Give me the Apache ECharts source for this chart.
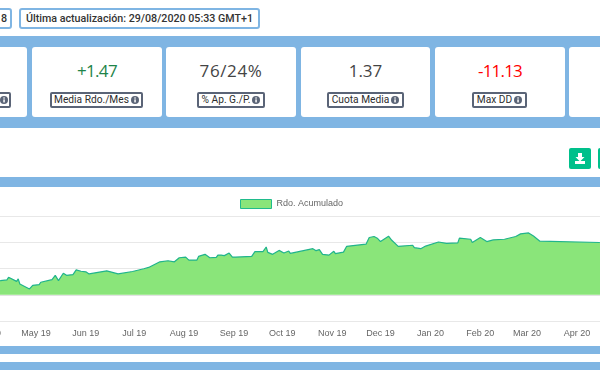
<!DOCTYPE html>
<html><head><meta charset="utf-8">
<script src="https://cdn.jsdelivr.net/npm/echarts@6/dist/echarts.min.js"></script>
<style>
html,body{margin:0;padding:0;background:#fff;width:600px;height:370px;overflow:hidden;font-family:"Open Sans",Roboto,sans-serif}
#chart{position:absolute;left:-80px;top:0;width:760px;height:370px}
.band{position:absolute;left:0;width:600px;background:#7fb5e3}
.card{position:absolute;top:47px;height:70px;width:130px;background:#fff;border-radius:3px;box-sizing:border-box}
.val{position:absolute;left:0;right:0;top:12px;text-align:center;font-size:17px;line-height:24px;color:#444;font-family:"Open Sans",sans-serif;font-weight:400}
.lab{position:absolute;top:45px;height:16px;border:2px solid #5a6477;border-radius:2px;background:#fff;font-size:10.2px;line-height:12px;color:#2d2d2d;text-align:center;box-sizing:border-box;white-space:nowrap;font-family:Roboto,sans-serif}
.lab svg{vertical-align:-1px;margin-left:2px}
.top{position:absolute;top:8px;height:21px;border:2px solid #7fb5e3;border-radius:3px;background:#fff;box-sizing:border-box;font-family:Roboto,sans-serif;font-size:10.7px;line-height:17px;color:#333;font-weight:500;white-space:nowrap;text-align:center}
.btn{position:absolute;top:148px;height:21px;background:#00c08b;border-radius:2px}
</style></head><body>
<div id="chart"></div>
<div class="top" style="left:-40px;width:52px;text-align:right;padding-right:3px">8</div>
<div class="top" style="left:19px;width:241px">Última actualización: 29/08/2020 05:33 GMT+1</div>
<div class="band" style="top:36px;height:92px"></div>
<div class="card" style="left:-103px"><div class="lab" style="width:40px;right:16px;text-align:right;padding-right:1px"><svg width="8" height="8" viewBox="0 0 8 8"><circle cx="4" cy="4" r="4" fill="#5a6477"/><rect x="3.3" y="3.4" width="1.5" height="3" fill="#fff"/><rect x="3.3" y="1.4" width="1.5" height="1.2" fill="#fff"/></svg></div></div>
<div class="card" style="left:32px"><div class="val" style="color:#1e8449;letter-spacing:-.7px">+1.47</div><div class="lab" style="left:18px;width:93px">Media Rdo./Mes<svg width="8" height="8" viewBox="0 0 8 8"><circle cx="4" cy="4" r="4" fill="#5a6477"/><rect x="3.3" y="3.4" width="1.5" height="3" fill="#fff"/><rect x="3.3" y="1.4" width="1.5" height="1.2" fill="#fff"/></svg></div></div>
<div class="card" style="left:166px"><div class="val" style="letter-spacing:.6px">76/24%</div><div class="lab" style="left:31px;width:68px">% Ap. G./P.<svg width="8" height="8" viewBox="0 0 8 8"><circle cx="4" cy="4" r="4" fill="#5a6477"/><rect x="3.3" y="3.4" width="1.5" height="3" fill="#fff"/><rect x="3.3" y="1.4" width="1.5" height="1.2" fill="#fff"/></svg></div></div>
<div class="card" style="left:301px;width:129px"><div class="val">1.37</div><div class="lab" style="left:26px;width:77px">Cuota Media<svg width="8" height="8" viewBox="0 0 8 8"><circle cx="4" cy="4" r="4" fill="#5a6477"/><rect x="3.3" y="3.4" width="1.5" height="3" fill="#fff"/><rect x="3.3" y="1.4" width="1.5" height="1.2" fill="#fff"/></svg></div></div>
<div class="card" style="left:435px"><div class="val" style="color:#f00;letter-spacing:-.8px">-11.13</div><div class="lab" style="left:37px;width:55px">Max DD<svg width="8" height="8" viewBox="0 0 8 8"><circle cx="4" cy="4" r="4" fill="#5a6477"/><rect x="3.3" y="3.4" width="1.5" height="3" fill="#fff"/><rect x="3.3" y="1.4" width="1.5" height="1.2" fill="#fff"/></svg></div></div>
<div class="card" style="left:569px;width:80px"></div>
<div class="btn" style="left:569px;width:22px"><svg width="22" height="21" viewBox="0 0 22 21"><path d="M9 5h4v4h2.5L11 13.5 6.5 9H9z" fill="#fff"/><rect x="6" y="13" width="10" height="3" fill="#fff"/></svg></div>
<div class="btn" style="left:598px;width:10px"></div>
<div class="band" style="top:177px;height:10px"></div>
<div class="band" style="top:346px;height:8px"></div>
<div class="band" style="top:362px;height:8px"></div>
<script>
var seriesName = 'Rdo. Acumulado';
var yTicks = [-20, 0, 20, 40, 60];
var dates = ['2019-03-01','2019-03-20','2019-04-09','2019-04-13','2019-04-14','2019-04-19','2019-04-20','2019-04-21','2019-04-27','2019-04-29','2019-05-03','2019-05-04','2019-05-05','2019-05-11','2019-05-13','2019-05-15','2019-05-18','2019-05-20','2019-05-24','2019-05-26','2019-05-27','2019-05-29','2019-05-30','2019-06-01','2019-06-03','2019-06-14','2019-06-21','2019-06-30','2019-07-07','2019-07-10','2019-07-17','2019-07-22','2019-07-26','2019-07-29','2019-08-02','2019-08-04','2019-08-09','2019-08-10','2019-08-14','2019-08-17','2019-08-21','2019-08-22','2019-08-24','2019-08-25','2019-08-26','2019-08-29','2019-08-31','2019-09-01','2019-09-02','2019-09-12','2019-09-14','2019-09-15','2019-09-19','2019-09-21','2019-09-22','2019-09-25','2019-09-29','2019-10-02','2019-10-05','2019-10-06','2019-10-20','2019-10-22','2019-10-24','2019-10-26','2019-10-30','2019-11-02','2019-11-03','2019-11-08','2019-11-10','2019-11-22','2019-11-24','2019-11-27','2019-11-29','2019-12-01','2019-12-06','2019-12-08','2019-12-12','2019-12-21','2019-12-22','2019-12-26','2019-12-29','2020-01-06','2020-01-11','2020-01-18','2020-01-19','2020-01-26','2020-01-27','2020-02-01','2020-02-05','2020-02-09','2020-02-16','2020-02-23','2020-02-26','2020-03-02','2020-03-05','2020-03-09','2020-04-15','2020-06-04'];
var values = [8,9.5,10.8,11.3,13.3,10.2,12.1,8.2,4.4,7.2,7.7,9.5,8.2,11.5,14.8,10.8,16.4,14.8,15.4,19,17.5,17.9,16.7,17.5,15.9,18.2,15.9,17.7,19.8,20.8,25.1,25.9,25.1,28.2,28.7,26.4,26.4,29.2,30.8,28.2,28.5,30.2,30.2,31.3,29.8,31.8,28.7,30.2,28.7,29.2,32.8,31.8,32.8,36.4,32.3,30.8,33.8,31.8,33.3,31.5,35.1,33.6,34.4,30.8,30.2,33.1,31.3,32.5,36.9,38.5,43.6,44.4,43.1,40.5,44.6,41.5,36.9,37.7,35.9,35.1,37.1,40.2,39.2,39.5,43.1,42.3,39.8,43.6,40.5,41.8,42.3,44.4,46.4,47.1,44.8,40.8,39.8,39.4];
var chart = echarts.init(document.getElementById('chart'), null, {renderer:'canvas'});
chart.setOption({
  animation:false,
  backgroundColor:'transparent',
  legend:{left:315,top:194,icon:'rect',itemWidth:31,itemHeight:9,itemGap:4,
    textStyle:{fontFamily:'Liberation Sans',fontSize:9,color:'#666'},
    itemStyle:{color:'#8ae57a',borderColor:'#20bb8c',borderWidth:1},
    data:[seriesName]},
  grid:{left:0,right:0,top:216,bottom:49,outerBoundsMode:'none'},
  xAxis:{type:'time',min:'2019-02-18',max:'2020-06-04',splitNumber:16,
    axisLine:{lineStyle:{color:'#e2e2e2',width:1}},axisTick:{show:false},splitLine:{show:false},
    axisLabel:{formatter:'{MMM} {yy}',fontFamily:'Liberation Sans',fontSize:9,color:'#666',margin:8,hideOverlap:false}},
  yAxis:{type:'value',min:yTicks[0],max:yTicks[yTicks.length-1],interval:20,
    axisLine:{show:false},axisTick:{show:false},axisLabel:{show:false},
    splitLine:{lineStyle:{color:'#e8e8e8',width:1}}},
  series:[{name:seriesName,type:'line',showSymbol:false,symbol:'none',
    lineStyle:{color:'#20b48c',width:1.2},
    areaStyle:{color:'#8ae57a',opacity:1,origin:0},
    itemStyle:{color:'#8ae57a'},
    data:dates.map(function(d,i){return [d,values[i]];})}]
});
</script>
</body></html>
